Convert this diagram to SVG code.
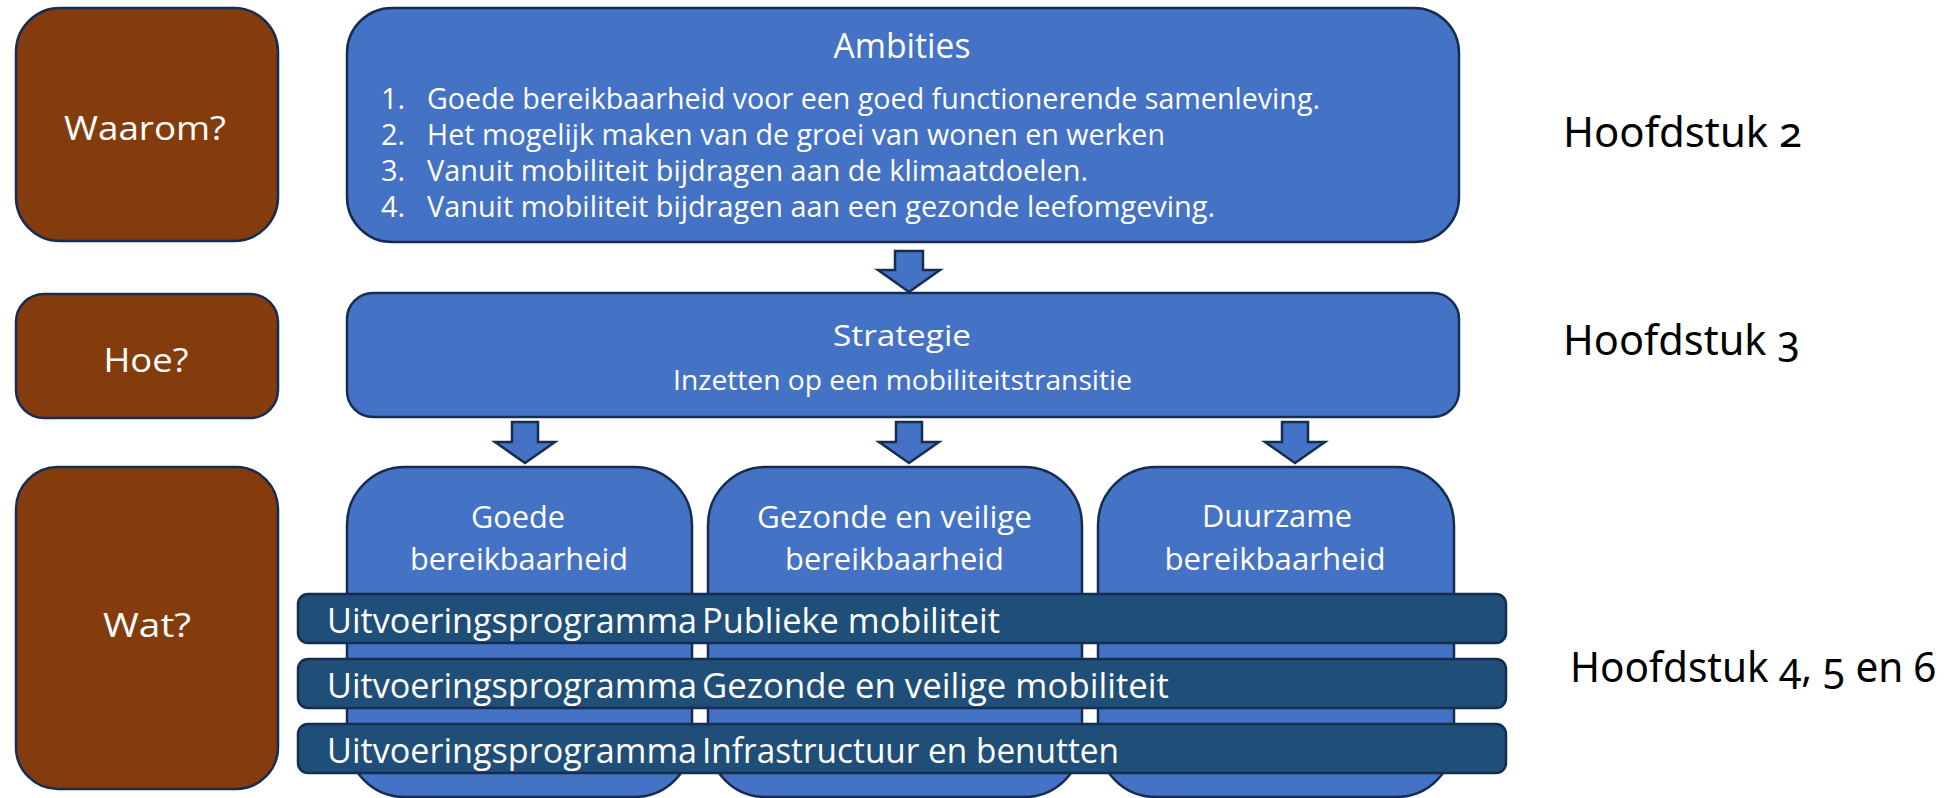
<svg xmlns="http://www.w3.org/2000/svg" width="1960" height="798" viewBox="0 0 1960 798">
<style>
.q{fill:#843C0C;stroke:#172C51;stroke-width:2.5}
.b{fill:#4472C4;stroke:#172C51;stroke-width:2.5}
.bar{fill:#1F4E79;stroke:#172C51;stroke-width:2.5}
.arr{fill:#4472C4;stroke:#172C51;stroke-width:2.5;stroke-linejoin:miter}
.t{font-family:"Open Sans","Liberation Sans",sans-serif;fill:#FFFFFF}
.c{text-anchor:middle}
.h{font-family:"Noto Sans","Liberation Sans",sans-serif;fill:#000000;font-size:42px;font-variant-numeric:oldstyle-nums}
</style>
<rect width="1960" height="798" fill="#FFFFFF"/>
<g id="waarom">
<rect class="q" x="16" y="8" width="262" height="233" rx="44" ry="44"/>
<text class="t c" x="145" y="140" font-size="33" textLength="162" lengthAdjust="spacingAndGlyphs">Waarom?</text>
</g>
<g id="hoe">
<rect class="q" x="16" y="294" width="262" height="124" rx="28" ry="28"/>
<text class="t c" x="146" y="372" font-size="33" textLength="85" lengthAdjust="spacingAndGlyphs">Hoe?</text>
</g>
<g id="wat">
<rect class="q" x="16" y="467" width="262" height="322" rx="42" ry="42"/>
<text class="t c" x="147" y="637" font-size="33" textLength="88" lengthAdjust="spacingAndGlyphs">Wat?</text>
</g>
<g id="ambities">
<rect class="b" x="347" y="8" width="1112" height="234" rx="45" ry="45"/>
<text class="t c" x="902" y="58" font-size="35" textLength="137" lengthAdjust="spacingAndGlyphs">Ambities</text>
<g class="t" font-size="29">
<text x="381" y="109">1.</text>
<text x="427" y="109" textLength="893" lengthAdjust="spacingAndGlyphs">Goede bereikbaarheid voor een goed functionerende samenleving.</text>
<text x="381" y="145">2.</text>
<text x="427" y="145" textLength="738" lengthAdjust="spacingAndGlyphs">Het mogelijk maken van de groei van wonen en werken</text>
<text x="381" y="181">3.</text>
<text x="427" y="181" textLength="661" lengthAdjust="spacingAndGlyphs">Vanuit mobiliteit bijdragen aan de klimaatdoelen.</text>
<text x="381" y="217">4.</text>
<text x="427" y="217" textLength="788" lengthAdjust="spacingAndGlyphs">Vanuit mobiliteit bijdragen aan een gezonde leefomgeving.</text>
</g>
</g>
<g id="strategie">
<rect class="b" x="347" y="293" width="1112" height="124" rx="26" ry="26"/>
<text class="t c" x="902" y="346" font-size="30" textLength="138" lengthAdjust="spacingAndGlyphs">Strategie</text>
<text class="t c" x="902.5" y="390" font-size="28" textLength="459" lengthAdjust="spacingAndGlyphs">Inzetten op een mobiliteitstransitie</text>
</g>
<g id="goede">
<rect class="b" x="347" y="467" width="345" height="330" rx="58" ry="58"/>
<text class="t c" x="518" y="528" font-size="31" textLength="94" lengthAdjust="spacingAndGlyphs">Goede</text>
<text class="t c" x="519" y="570" font-size="31" textLength="218" lengthAdjust="spacingAndGlyphs">bereikbaarheid</text>
</g>
<g id="gezonde">
<rect class="b" x="708" y="467" width="374" height="330" rx="58" ry="58"/>
<text class="t c" x="894.5" y="528" font-size="31" textLength="275" lengthAdjust="spacingAndGlyphs">Gezonde en veilige</text>
<text class="t c" x="894.5" y="570" font-size="31" textLength="219" lengthAdjust="spacingAndGlyphs">bereikbaarheid</text>
</g>
<g id="duurzame">
<rect class="b" x="1098" y="467" width="356" height="330" rx="58" ry="58"/>
<text class="t c" x="1277" y="527" font-size="31" textLength="150" lengthAdjust="spacingAndGlyphs">Duurzame</text>
<text class="t c" x="1275" y="570" font-size="31" textLength="221" lengthAdjust="spacingAndGlyphs">bereikbaarheid</text>
</g>
<g id="up-publieke">
<rect class="bar" x="298" y="594" width="1208" height="49" rx="10" ry="10"/>
<text class="t" x="327" y="633" font-size="35" textLength="370" lengthAdjust="spacingAndGlyphs">Uitvoeringsprogramma</text>
<text class="t" x="702" y="633" font-size="35" textLength="298" lengthAdjust="spacingAndGlyphs">Publieke mobiliteit</text>
</g>
<g id="up-gezonde">
<rect class="bar" x="298" y="659" width="1208" height="49" rx="10" ry="10"/>
<text class="t" x="327" y="698" font-size="35" textLength="370" lengthAdjust="spacingAndGlyphs">Uitvoeringsprogramma</text>
<text class="t" x="702" y="698" font-size="35" textLength="467" lengthAdjust="spacingAndGlyphs">Gezonde en veilige mobiliteit</text>
</g>
<g id="up-infra">
<rect class="bar" x="298" y="724" width="1208" height="49" rx="10" ry="10"/>
<text class="t" x="327" y="763" font-size="35" textLength="370" lengthAdjust="spacingAndGlyphs">Uitvoeringsprogramma</text>
<text class="t" x="702" y="763" font-size="35" textLength="417" lengthAdjust="spacingAndGlyphs">Infrastructuur en benutten</text>
</g>
<g id="connectors">
<path class="arr" d="M895,251 H923 V270 H940 L909,292 L878,270 H895 Z"/>
<path class="arr" d="M512,422 H538 V442 H555 L525,463 L495,442 H512 Z"/>
<path class="arr" d="M896,422 H922 V442 H939 L909,463 L879,442 H896 Z"/>
<path class="arr" d="M1282,422 H1308 V442 H1325 L1295,463 L1265,442 H1282 Z"/>
</g>
<g id="labels">
<text class="h" x="1563" y="147" textLength="239" lengthAdjust="spacingAndGlyphs">Hoofdstuk 2</text>
<text class="h" x="1563" y="355" textLength="237" lengthAdjust="spacingAndGlyphs">Hoofdstuk 3</text>
<text class="h" x="1570" y="682" textLength="366" lengthAdjust="spacingAndGlyphs">Hoofdstuk 4, 5 en 6</text>
</g>
</svg>
